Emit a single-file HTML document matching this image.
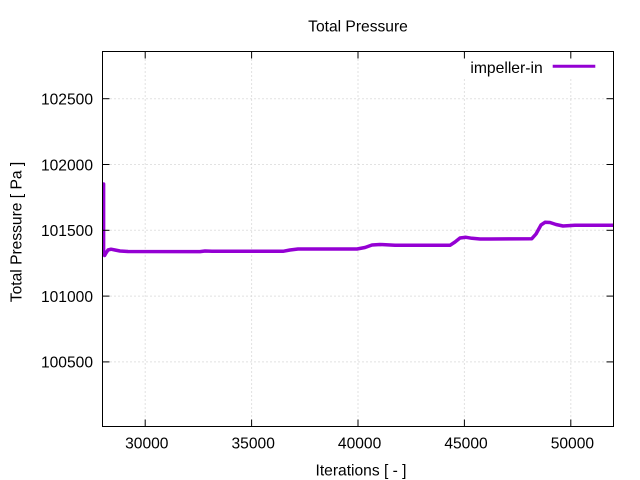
<!DOCTYPE html>
<html>
<head>
<meta charset="utf-8">
<style>
  html, body { margin: 0; padding: 0; background: #ffffff; }
  svg { display: block; }
  text { font-family: "Liberation Sans", Arial, sans-serif; fill: #000; }
</style>
</head>
<body>
<svg width="640" height="480" viewBox="0 0 640 480" xmlns="http://www.w3.org/2000/svg">
  <rect x="0" y="0" width="640" height="480" fill="#ffffff"/>
  <defs>
    <clipPath id="plot">
      <rect x="102.5" y="51.5" width="511" height="375"/>
    </clipPath>
  </defs>

  <!-- grid -->
  <g stroke="#c4c4c4" stroke-width="1" stroke-dasharray="1,3" fill="none">
    <line x1="102.5" y1="98.7" x2="613.5" y2="98.7"/>
    <line x1="102.5" y1="164.5" x2="613.5" y2="164.5"/>
    <line x1="102.5" y1="230.3" x2="613.5" y2="230.3"/>
    <line x1="102.5" y1="296.1" x2="613.5" y2="296.1"/>
    <line x1="102.5" y1="361.9" x2="613.5" y2="361.9"/>
    <line x1="145.2" y1="51.5" x2="145.2" y2="426.5"/>
    <line x1="251.6" y1="51.5" x2="251.6" y2="426.5"/>
    <line x1="358" y1="51.5" x2="358" y2="426.5"/>
    <line x1="464.4" y1="51.5" x2="464.4" y2="426.5"/>
    <line x1="570.8" y1="51.5" x2="570.8" y2="426.5"/>
  </g>

  <!-- key background -->
  <rect x="462" y="52.5" width="146" height="24" fill="#ffffff"/>

  <!-- data -->
  <g clip-path="url(#plot)">
    <polyline fill="none" stroke="#9400d3" stroke-width="3.5" stroke-linejoin="round" stroke-linecap="round"
      points="103.6,184 103.6,252 104.6,255.5 106,253 108,250 111,249.2 115,250 120,251 128,251.5 200,251.6 205,251 212,251.3 283,251.3 290,250 298,249 357,249 365,247.5 372,245 380,244.5 395,245.2 420,245.3 450,245.3 455,242 460,238 466,237.3 472,238.3 480,239 490,239 531.7,238.8 536,234 541,225 545,222.3 550,222.5 556,224.5 563,226 575,225.3 613,225.2"/>
  </g>

  <!-- frame -->
  <rect x="102.5" y="51.5" width="511" height="375" fill="none" stroke="#000" stroke-width="1"/>

  <!-- ticks -->
  <g stroke="#000" stroke-width="1">
    <!-- y ticks left/right -->
    <line x1="102.5" y1="98.7" x2="109.5" y2="98.7"/>
    <line x1="102.5" y1="164.5" x2="109.5" y2="164.5"/>
    <line x1="102.5" y1="230.3" x2="109.5" y2="230.3"/>
    <line x1="102.5" y1="296.1" x2="109.5" y2="296.1"/>
    <line x1="102.5" y1="361.9" x2="109.5" y2="361.9"/>
    <line x1="606.5" y1="98.7" x2="613.5" y2="98.7"/>
    <line x1="606.5" y1="164.5" x2="613.5" y2="164.5"/>
    <line x1="606.5" y1="230.3" x2="613.5" y2="230.3"/>
    <line x1="606.5" y1="296.1" x2="613.5" y2="296.1"/>
    <line x1="606.5" y1="361.9" x2="613.5" y2="361.9"/>
    <!-- x ticks bottom/top -->
    <line x1="145.2" y1="426.5" x2="145.2" y2="419.5"/>
    <line x1="251.6" y1="426.5" x2="251.6" y2="419.5"/>
    <line x1="358" y1="426.5" x2="358" y2="419.5"/>
    <line x1="464.4" y1="426.5" x2="464.4" y2="419.5"/>
    <line x1="570.8" y1="426.5" x2="570.8" y2="419.5"/>
    <line x1="145.2" y1="51.5" x2="145.2" y2="58.5"/>
    <line x1="251.6" y1="51.5" x2="251.6" y2="58.5"/>
    <line x1="358" y1="51.5" x2="358" y2="58.5"/>
    <line x1="464.4" y1="51.5" x2="464.4" y2="58.5"/>
    <line x1="570.8" y1="51.5" x2="570.8" y2="58.5"/>
  </g>

  <!-- y tick labels -->
  <g font-size="15.6" text-anchor="end">
    <text x="93" y="104.5">102500</text>
    <text x="93" y="170.3">102000</text>
    <text x="93" y="236.1">101500</text>
    <text x="93" y="301.9">101000</text>
    <text x="93" y="367.7">100500</text>
  </g>

  <!-- x tick labels -->
  <g font-size="15.6" text-anchor="middle">
    <text x="146.8" y="448.7">30000</text>
    <text x="253.2" y="448.7">35000</text>
    <text x="359.6" y="448.7">40000</text>
    <text x="466" y="448.7">45000</text>
    <text x="572.4" y="448.7">50000</text>
  </g>

  <!-- title -->
  <text x="358" y="31.5" font-size="15.6" text-anchor="middle">Total Pressure</text>

  <!-- axis labels -->
  <text x="361" y="475.5" font-size="15.6" text-anchor="middle">Iterations [ - ]</text>
  <text transform="translate(21.5,232) rotate(-90)" font-size="15.6" text-anchor="middle">Total Pressure [ Pa ]</text>

  <!-- legend -->
  <text x="542.7" y="73" font-size="15.7" text-anchor="end">impeller-in</text>
  <line x1="552.7" y1="66.3" x2="595.3" y2="66.3" stroke="#9400d3" stroke-width="3"/>
</svg>
</body>
</html>
